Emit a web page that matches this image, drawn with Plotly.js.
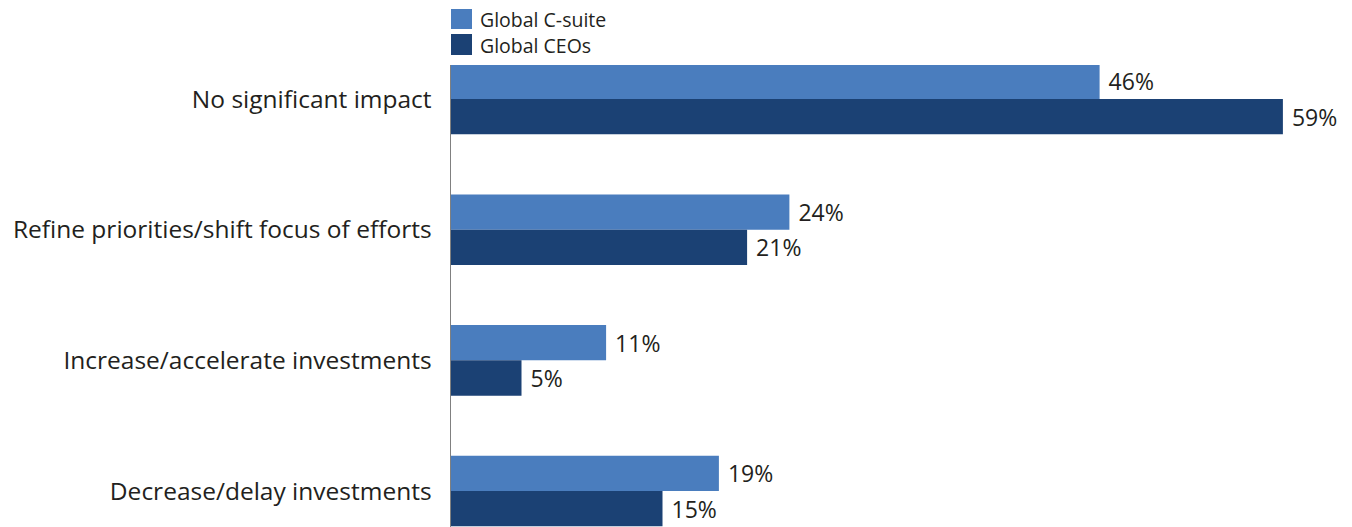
<!DOCTYPE html>
<html>
<head>
<meta charset="utf-8">
<script src="https://cdn.plot.ly/plotly-3.0.1.min.js"></script>
<style>html,body{margin:0;padding:0;background:#fff;}#chart{width:1352px;height:527px;}</style>
</head>
<body>
<div id="chart"></div>
<script>
const categories = ["No significant impact", "Refine priorities/shift focus of efforts", "Increase/accelerate investments", "Decrease/delay investments"];
const seriesNames = ["Global C-suite", "Global CEOs"];
const csuiteValues = [46, 24, 11, 19];
const ceoValues = [59, 21, 5, 15];
const colors = ["#4A7DBE", "#1B4174"];

const FONT = "'Open Sans', Lato, sans-serif";
const TXT = "#231f20";

const traces = [csuiteValues, ceoValues].map((vals, i) => ({
  type: "bar",
  orientation: "h",
  name: seriesNames[i],
  y: categories,
  x: vals,
  text: vals.map(v => " " + v + "%"),
  textposition: "outside",
  textfont: {family: FONT, size: 23, color: TXT},
  cliponaxis: false,
  marker: {color: colors[i]},
  showlegend: false,
  hoverinfo: "skip"
}));

const layout = {
  width: 1352, height: 527,
  margin: {l: 451, r: 12, t: 65, b: 0, pad: 0},
  paper_bgcolor: "#fff", plot_bgcolor: "#fff",
  barmode: "group",
  bargap: 0.46,
  bargroupgap: 0,
  font: {family: FONT, color: TXT},
  xaxis: {range: [0, 63.05], visible: false, showgrid: false, zeroline: false, fixedrange: true},
  yaxis: {
    type: "category",
    range: [3.275, -0.26],
    showline: true, linecolor: "#808080", linewidth: 1.5,
    showgrid: false, zeroline: false,
    ticks: "", ticklabelstandoff: 13,
    tickfont: {family: FONT, size: 24.5, color: TXT},
    fixedrange: true
  },
  shapes: colors.map((c, i) => ({
    type: "rect", xref: "paper", yref: "paper",
    xsizemode: "pixel", ysizemode: "pixel",
    xanchor: 0, yanchor: 1,
    x0: 0, x1: 21,
    y0: i === 0 ? 36 : 10, y1: i === 0 ? 56 : 31,
    fillcolor: c, line: {width: 0}
  })),
  annotations: seriesNames.map((n, i) => ({
    text: n, xref: "paper", yref: "paper", x: 0, y: 1,
    xanchor: "left", yanchor: "middle",
    xshift: 27, yshift: i === 0 ? 46 : 20,
    showarrow: false,
    font: {family: FONT, size: 19.5, color: TXT}
  }))
};

Plotly.newPlot("chart", traces, layout, {displayModeBar: false, staticPlot: true});
</script>
</body>
</html>
